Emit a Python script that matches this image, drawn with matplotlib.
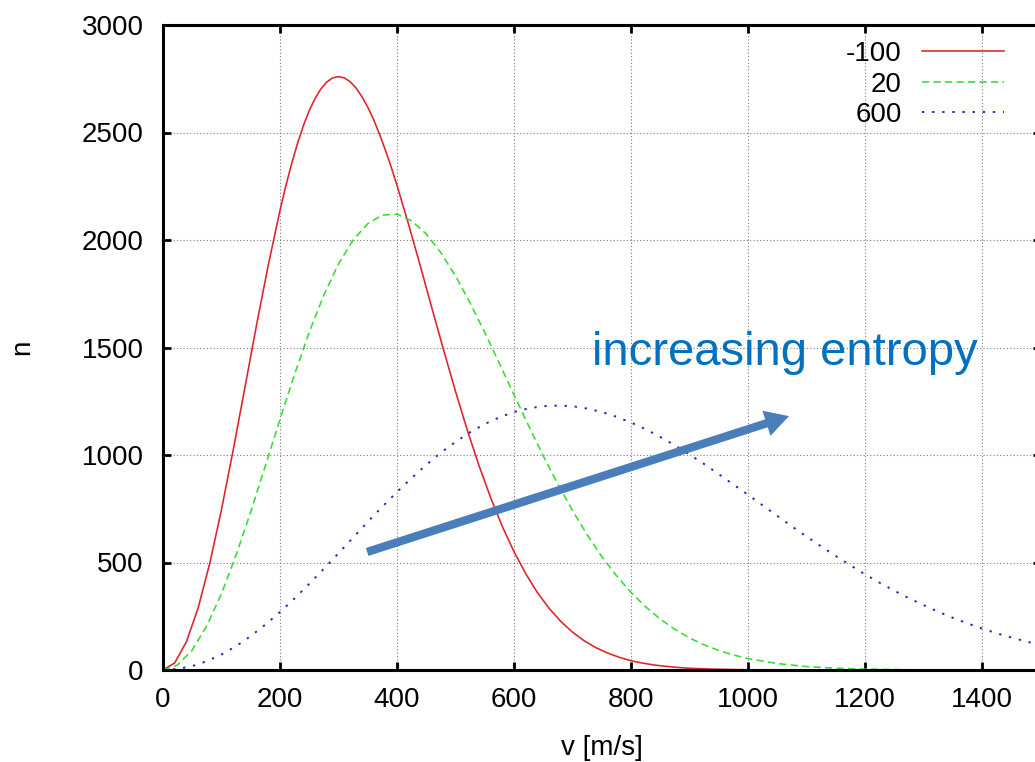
import matplotlib
matplotlib.use("Agg")
import matplotlib.pyplot as plt

plt.rcParams['font.family'] = ['Liberation Sans', 'DejaVu Sans']

# -------------------------------------------------------
# data
# -------------------------------------------------------
v_red = [0, 20, 40, 60, 80, 100, 120, 140, 160, 180, 200, 210, 220, 230, 240,
         250, 260, 270, 280, 290, 300, 310, 320, 330, 340, 350, 360, 370, 380,
         390, 400, 420, 440, 460, 480, 500, 520, 540, 560, 580, 600, 620, 640,
         660, 680, 700, 720, 740, 760, 780, 800, 820, 840, 860, 880, 900, 940,
         1000, 1100, 1200]
n_red = [0, 33, 131, 288, 497, 746, 1023, 1314, 1606, 1884, 2138, 2252, 2356,
         2450, 2532, 2602, 2659, 2703, 2735, 2754, 2760, 2754, 2736, 2707, 2667,
         2618, 2560, 2493, 2419, 2340, 2254, 2071, 1878, 1680, 1485, 1296, 1117,
         952, 802, 668, 550, 448, 360, 287, 226, 176, 136, 104, 79, 59, 43, 32,
         23, 17, 12, 8, 4, 1, 0, 0]

v_green = [0, 25, 50, 75, 100, 125, 150, 175, 200, 225, 250, 275, 300, 325,
           350, 375, 400, 425, 450, 475, 500, 525, 550, 575, 600, 625, 650, 675,
           700, 725, 750, 775, 800, 825, 850, 875, 900, 925, 950, 975, 1000,
           1050, 1100, 1150, 1200, 1250, 1300]
n_green = [0, 24, 93, 206, 355, 535, 736, 950, 1166, 1376, 1572, 1744, 1889,
           2000, 2076, 2116, 2120, 2089, 2028, 1941, 1833, 1707, 1570, 1426,
           1280, 1136, 996, 864, 742, 629, 528, 439, 361, 294, 237, 189, 149,
           117, 91, 70, 53, 30, 16, 8, 4, 2, 1]

v_blue = [0, 25, 50, 75, 100, 125, 150, 175, 200, 225, 250, 275, 300, 325, 350,
          375, 400, 425, 450, 475, 500, 525, 550, 575, 600, 625, 650, 675, 700,
          725, 750, 775, 800, 825, 850, 875, 900, 925, 950, 975, 1000, 1025,
          1050, 1075, 1100, 1125, 1150, 1175, 1200, 1225, 1250, 1275, 1300,
          1325, 1350, 1375, 1400, 1425, 1450, 1475, 1500]
n_blue = [0, 5, 18, 41, 72, 111, 158, 211, 270, 333, 401, 471, 543, 616, 689,
          760, 828, 893, 954, 1011, 1061, 1106, 1144, 1175, 1200, 1217, 1227,
          1230, 1227, 1216, 1200, 1178, 1151, 1120, 1084, 1045, 1002, 958, 911,
          863, 815, 766, 717, 668, 621, 575, 530, 487, 445, 406, 369, 334, 302,
          271, 243, 217, 193, 171, 151, 133, 117]

labels = ["-100", "20", "600"]
x_ticks = [0, 200, 400, 600, 800, 1000, 1200, 1400]
y_ticks = [0, 500, 1000, 1500, 2000, 2500, 3000]

# -------------------------------------------------------
# figure
# -------------------------------------------------------
fig = plt.figure(figsize=(10.35, 7.62), dpi=100)
ax = fig.add_axes([163 / 1035, 92 / 762, 877.5 / 1035, 645 / 762])

styles = [
    dict(color="#e0202a", linestyle="-", lw=1.15),
    dict(color="#33dd33", linestyle=(0, (4.5, 2.7)), lw=1.15),
    dict(color="#3024b8", linestyle=(0, (1.2, 4.0)), lw=1.4),
]
for (vx, ny), st in zip([(v_red, n_red), (v_green, n_green), (v_blue, n_blue)], styles):
    ax.plot(vx, ny, **st)

ax.set_xlim(0, 1500)
ax.set_ylim(0, 3000)
ax.set_xticks(x_ticks)
ax.set_yticks(y_ticks)
ax.tick_params(direction="in", top=True, right=True, length=6, width=2,
               labelsize=20)
ax.tick_params(axis="x", pad=12)
ax.tick_params(axis="y", pad=14)
for sp in ax.spines.values():
    sp.set_linewidth(2.2)
ax.grid(True, color="#7a7a7a", linestyle=(0, (1, 2)), linewidth=0.8)
ax.set_axisbelow(True)

ax.set_xlabel("v [m/s]", fontsize=20, va="baseline")
ax.set_ylabel("n", fontsize=20, va="baseline")
ax.xaxis.set_label_coords(0.5, -0.1318)
ax.yaxis.set_label_coords(-0.1527, 0.5)

# legend: right-aligned labels, sample lines on the right
leg_y = [0.9597, 0.9116, 0.8651]
for lab, st, yy in zip(labels, styles, leg_y):
    ax.text(0.842, yy, lab, transform=ax.transAxes, ha="right",
            va="center_baseline", fontsize=20)
    ax.plot([0.865, 0.958], [yy, yy], transform=ax.transAxes, **st)

# annotation
ax.text(733, 1419, "increasing entropy", color="#0070c0", fontsize=34,
        ha="left", va="baseline")
ax.annotate("", xy=(1070, 1181), xytext=(349, 549),
            arrowprops=dict(arrowstyle="simple,tail_width=0.3,head_width=0.95,head_length=0.85",
                            mutation_scale=20, color="#4a7ebb", lw=0,
                            shrinkA=0, shrinkB=0))

fig.savefig("out.png", dpi=100)
